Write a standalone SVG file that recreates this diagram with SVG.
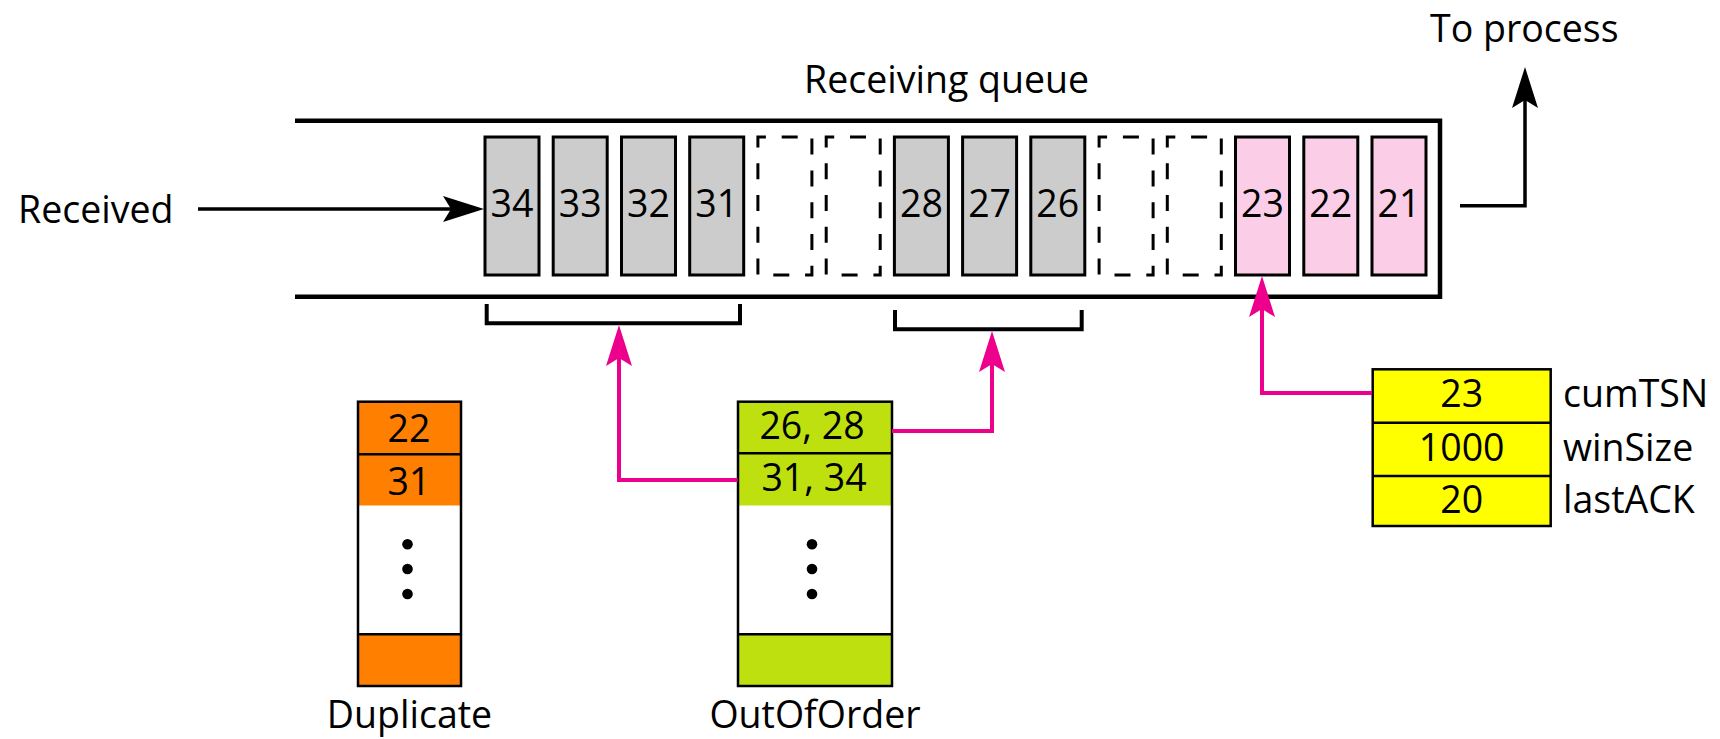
<svg xmlns="http://www.w3.org/2000/svg" width="1720" height="739" viewBox="0 0 1720 739">
<style>
  text { font-family: "Open Sans", "Liberation Sans", sans-serif; font-size: 37.5px; fill: #000; }
  .mid { text-anchor: middle; }
  .cell { stroke: #000; stroke-width: 3; }
  .gray { fill: #cccccc; }
  .pink { fill: #fbcde6; }
  .dash { fill: none; stroke: #000; stroke-width: 3; stroke-dasharray: 16 15.8; stroke-dashoffset: 8; }
  .queue { fill: none; stroke: #000; stroke-width: 4.5; }
  .bracket { fill: none; stroke: #000; stroke-width: 4; }
  .blk { fill: none; stroke: #000; stroke-width: 3.5; marker-end: url(#ahB); }
  .mag { fill: none; stroke: #ec008c; stroke-width: 4; marker-end: url(#ahM); }
  .box { fill: none; stroke: #000; stroke-width: 2.5; }
  .div { stroke: #000; stroke-width: 2.5; }
</style>
<defs>
  <marker id="ahB" markerUnits="userSpaceOnUse" markerWidth="44" markerHeight="28" refX="33" refY="13" orient="auto" overflow="visible">
    <path d="M41,13 L0,0 L8,13 L0,26 Z" fill="#000"/>
  </marker>
  <marker id="ahM" markerUnits="userSpaceOnUse" markerWidth="44" markerHeight="28" refX="33" refY="13" orient="auto" overflow="visible">
    <path d="M41,13 L0,0 L8,13 L0,26 Z" fill="#ec008c"/>
  </marker>
</defs>

<g id="labels">
  <text x="18" y="222.7">Received</text>
  <text x="1430" y="41.7">To process</text>
  <text x="804" y="93.3">Receiving queue</text>
</g>

<g id="queue">
  <path class="queue" d="M295,120.7 H1440 V296.7 H295"/>
  <g id="cell-34"><rect class="cell gray" x="485" y="137" width="54" height="138"/><text class="mid" x="512" y="217">34</text></g>
  <g id="cell-33"><rect class="cell gray" x="553.2" y="137" width="54" height="138"/><text class="mid" x="580.2" y="217">33</text></g>
  <g id="cell-32"><rect class="cell gray" x="621.5" y="137" width="54" height="138"/><text class="mid" x="648.5" y="217">32</text></g>
  <g id="cell-31"><rect class="cell gray" x="689.7" y="137" width="54" height="138"/><text class="mid" x="716.7" y="217">31</text></g>
  <g id="cell-30"><rect class="dash" x="757.9" y="137" width="54" height="138"/></g>
  <g id="cell-29"><rect class="dash" x="826.2" y="137" width="54" height="138"/></g>
  <g id="cell-28"><rect class="cell gray" x="894.4" y="137" width="54" height="138"/><text class="mid" x="921.4" y="217">28</text></g>
  <g id="cell-27"><rect class="cell gray" x="962.6" y="137" width="54" height="138"/><text class="mid" x="989.6" y="217">27</text></g>
  <g id="cell-26"><rect class="cell gray" x="1030.8" y="137" width="54" height="138"/><text class="mid" x="1057.8" y="217">26</text></g>
  <g id="cell-25"><rect class="dash" x="1099.1" y="137" width="54" height="138"/></g>
  <g id="cell-24"><rect class="dash" x="1167.3" y="137" width="54" height="138"/></g>
  <g id="cell-23"><rect class="cell pink" x="1235.5" y="137" width="54" height="138"/><text class="mid" x="1262.5" y="217">23</text></g>
  <g id="cell-22"><rect class="cell pink" x="1303.8" y="137" width="54" height="138"/><text class="mid" x="1330.8" y="217">22</text></g>
  <g id="cell-21"><rect class="cell pink" x="1372" y="137" width="54" height="138"/><text class="mid" x="1399" y="217">21</text></g>
</g>

<g id="brackets">
  <path class="bracket" d="M486.7,304 V323.3 H740 V304"/>
  <path class="bracket" d="M895,310 V329.3 H1081.7 V310"/>
</g>

<g id="duplicate">
  <rect x="358" y="401.7" width="103" height="104" fill="#ff8000"/>
  <rect x="358" y="505.7" width="103" height="128.6" fill="#ffffff"/>
  <rect x="358" y="634.3" width="103" height="51.7" fill="#ff8000"/>
  <line class="div" x1="358" y1="454.3" x2="461" y2="454.3"/>
  <line class="div" x1="358" y1="634.3" x2="461" y2="634.3"/>
  <rect class="box" x="358" y="401.7" width="103" height="284.3"/>
  <text class="mid" x="409" y="441.7">22</text>
  <text class="mid" x="409" y="495">31</text>
  <circle cx="407.5" cy="544.3" r="5.3"/>
  <circle cx="407.5" cy="569" r="5.3"/>
  <circle cx="407.5" cy="594" r="5.3"/>
  <text class="mid" x="409.5" y="728">Duplicate</text>
</g>

<g id="outoforder">
  <rect x="738" y="401.7" width="154" height="104" fill="#bfe00f"/>
  <rect x="738" y="505.7" width="154" height="128.6" fill="#ffffff"/>
  <rect x="738" y="634.3" width="154" height="51.7" fill="#bfe00f"/>
  <line class="div" x1="738" y1="453.3" x2="892" y2="453.3"/>
  <line class="div" x1="738" y1="634.3" x2="892" y2="634.3"/>
  <rect class="box" x="738" y="401.7" width="154" height="284.3"/>
  <text class="mid" x="812" y="439">26, 28</text>
  <text class="mid" x="814" y="491">31, 34</text>
  <circle cx="812" cy="544.3" r="5.3"/>
  <circle cx="812" cy="569" r="5.3"/>
  <circle cx="812" cy="594" r="5.3"/>
  <text class="mid" x="815" y="728">OutOfOrder</text>
</g>

<g id="variables">
  <rect x="1372.7" y="369.3" width="178" height="156.7" fill="#ffff00"/>
  <line class="div" x1="1372.7" y1="422.7" x2="1550.7" y2="422.7"/>
  <line class="div" x1="1372.7" y1="476" x2="1550.7" y2="476"/>
  <rect class="box" x="1372.7" y="369.3" width="178" height="156.7"/>
  <text class="mid" x="1461.7" y="406.7">23</text>
  <text class="mid" x="1461.7" y="460.7">1000</text>
  <text class="mid" x="1461.7" y="513.3">20</text>
  <text x="1563" y="406.7">cumTSN</text>
  <text x="1563" y="460.7">winSize</text>
  <text x="1563" y="513.3">lastACK</text>
</g>

<g id="connectors">
  <path class="blk" d="M198,209 H476"/>
  <path class="blk" d="M1460,205.7 H1525 V75"/>
  <path class="mag" d="M737.7,480 H619 V333"/>
  <path class="mag" d="M892,431 H992 V339"/>
  <path class="mag" d="M1372,393 H1262 V284"/>
</g>
</svg>
